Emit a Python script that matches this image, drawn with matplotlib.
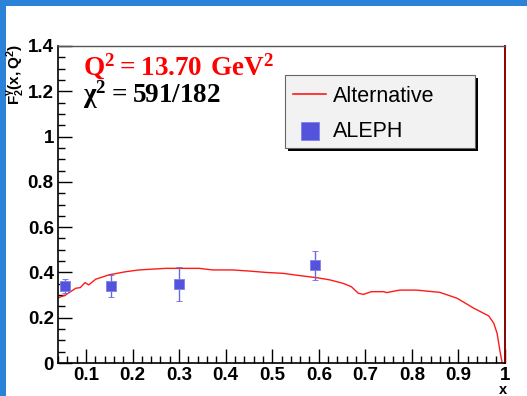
import matplotlib
matplotlib.use("Agg")
import matplotlib.pyplot as plt
from matplotlib.patches import Rectangle
from matplotlib.lines import Line2D
from matplotlib.ticker import MultipleLocator, FuncFormatter

plt.rcParams['font.family'] = ['Liberation Sans', 'DejaVu Sans']
plt.rcParams['mathtext.fontset'] = 'custom'
plt.rcParams['mathtext.bf'] = 'Liberation Serif:bold'
plt.rcParams['mathtext.rm'] = 'Liberation Serif:bold'
plt.rcParams['mathtext.sf'] = 'Liberation Sans:bold'

# ALEPH measurement of the photon structure function
aleph_x = [0.055, 0.153, 0.300, 0.591]
aleph_f2 = [0.340, 0.341, 0.349, 0.431]
aleph_err = [0.033, 0.048, 0.075, 0.065]

# Alternative parametrisation
alt_x = [0.038, 0.056, 0.078, 0.088, 0.098, 0.106, 0.121, 0.149, 0.185, 0.214,
         0.272, 0.343, 0.372, 0.415, 0.451, 0.487, 0.523, 0.559, 0.595, 0.624,
         0.652, 0.670, 0.685, 0.696, 0.713, 0.739, 0.746, 0.774, 0.810, 0.860,
         0.897, 0.933, 0.965, 0.976, 0.983, 0.990, 0.994]
alt_f2 = [0.286, 0.300, 0.330, 0.333, 0.355, 0.345, 0.370, 0.389, 0.403, 0.411,
          0.418, 0.418, 0.411, 0.411, 0.406, 0.400, 0.396, 0.386, 0.377, 0.367,
          0.352, 0.337, 0.308, 0.303, 0.315, 0.315, 0.311, 0.322, 0.322, 0.312,
          0.286, 0.242, 0.208, 0.175, 0.131, 0.043, 0.000]

W, H = 527, 396
fig = plt.figure(figsize=(W / 100, H / 100), dpi=100)
fig.patch.set_facecolor('white')


def fx(px):
    return px / W


def fy(py):
    return 1 - py / H


# blue frame strips
fig.patches.append(Rectangle((0, 0), fx(6), 1, transform=fig.transFigure,
                             facecolor='#2b82d9', edgecolor='none', zorder=0))
fig.patches.append(Rectangle((0, fy(6)), 1, 6 / H, transform=fig.transFigure,
                             facecolor='#2b82d9', edgecolor='none', zorder=0))

ax = fig.add_axes([fx(58), fy(363), 447 / W, 317 / H])
ax.set_xlim(0.04, 1.0)
ax.set_ylim(0, 1.4)

ax.plot(alt_x, alt_f2, color='#ff1a1a', lw=1.0, zorder=2)
ax.errorbar(aleph_x, aleph_f2, yerr=aleph_err, fmt='s', color='#5353dc',
            ecolor='#6a6ae0', elinewidth=1.0, capsize=2.5, capthick=1.0,
            markersize=7.5, markeredgecolor='#8080e8', markeredgewidth=0.6,
            zorder=3)

for s in ['left', 'bottom']:
    ax.spines[s].set_linewidth(1.2)
    ax.spines[s].set_color('black')
ax.spines['top'].set_color('#555555')
ax.spines['top'].set_linewidth(1.0)
ax.spines['right'].set_color('#8b0000')
ax.spines['right'].set_linewidth(1.4)

ax.xaxis.set_major_locator(MultipleLocator(0.1))
ax.xaxis.set_minor_locator(MultipleLocator(0.02))
ax.yaxis.set_major_locator(MultipleLocator(0.2))
ax.yaxis.set_minor_locator(MultipleLocator(0.05))

fmt = FuncFormatter(lambda v, p: ('%.1f' % v).rstrip('0').rstrip('.') if abs(v) > 1e-9 else '0')
ax.xaxis.set_major_formatter(fmt)
ax.yaxis.set_major_formatter(fmt)

ax.tick_params(axis='both', which='major', direction='in', length=10, width=1,
               labelsize=13.5, pad=3)
ax.tick_params(axis='both', which='minor', direction='in', length=5, width=1)
ax.tick_params(top=False, right=False, which='both')
for lab in ax.get_xticklabels() + ax.get_yticklabels():
    lab.set_fontweight('bold')

# axis titles
fig.text(fx(16), fy(44), r'$\mathsf{F_2^{γ}(x,Q^2)}$', rotation=90,
         ha='center', va='top', fontsize=11)
fig.text(fx(503), fy(394), 'x', ha='center', va='baseline',
         fontsize=10.5, fontweight='bold')

# fit annotations
fig.text(fx(83), fy(75), r'$\mathbf{Q^2 = 13.70\ GeV^2}$', color='#ff0000',
         ha='left', va='baseline', fontsize=19.5)
fig.text(fx(83), fy(103), r'$\mathbf{χ^2 = 591/182}$', color='black',
         ha='left', va='baseline', fontsize=19.5)

# legend box with drop shadow
bx0, by0, bx1, by1 = 285, 75, 475, 148
bw, bh = (bx1 - bx0) / W, (by1 - by0) / H
fig.patches.append(Rectangle((fx(bx0 + 3), fy(by1 + 3)), bw, bh,
                             transform=fig.transFigure, facecolor='black',
                             edgecolor='none', zorder=5))
fig.patches.append(Rectangle((fx(bx0), fy(by1)), bw, bh,
                             transform=fig.transFigure, facecolor='#f2f2f2',
                             edgecolor='#666666', linewidth=0.8, zorder=6))
fig.lines.append(Line2D([fx(293), fx(326)], [fy(94), fy(94)],
                        transform=fig.transFigure, color='#ff1a1a', lw=1.2, zorder=7))
fig.text(fx(333), fy(96), 'Alternative', ha='left', va='center',
         fontsize=15.5, zorder=7)
fig.patches.append(Rectangle((fx(301), fy(140)), 18 / W, 18 / H,
                             transform=fig.transFigure, facecolor='#5353dc',
                             edgecolor='#8080e8', linewidth=0.6, zorder=7))
fig.text(fx(333), fy(132), 'ALEPH', ha='left', va='center',
         fontsize=15.5, zorder=7)

fig.savefig('out.png', dpi=100)
